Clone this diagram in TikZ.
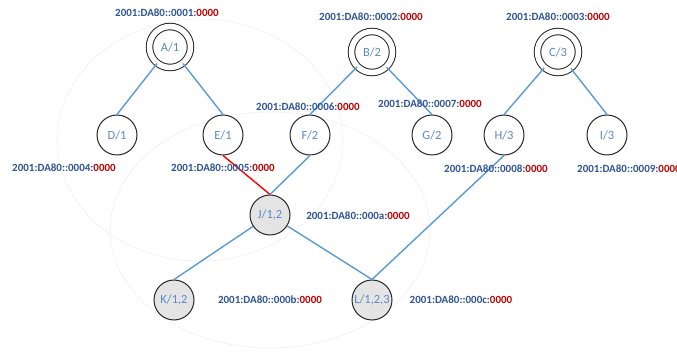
\documentclass[tikz,border=0pt]{standalone}
\usepackage{fontspec}
\setmainfont{Carlito}
\definecolor{lblue}{HTML}{2F5597}
\definecolor{lred}{HTML}{C00000}
\definecolor{ntext}{HTML}{5B8AC6}
\definecolor{edgeblue}{HTML}{5B9BD5}
\definecolor{faint}{HTML}{F0F0F0}
\definecolor{nfill}{HTML}{E4E4E4}
\tikzset{
  vtx/.style={circle,draw=black!85,line width=1pt,minimum size=40pt,inner sep=0pt,fill=white,text=ntext,font=\fontsize{12.5}{12.5}\selectfont},
  root/.style={vtx,double=white,double distance=5.5pt,minimum size=41pt},
  gvtx/.style={vtx,fill=nfill},
  addr/.style={font=\bfseries\fontsize{11}{11}\selectfont,text=lblue,inner sep=0pt},
  edge/.style={draw=edgeblue,line width=1.4pt},
  redge/.style={draw=red,line width=1.4pt},
  ring/.style={draw=faint,line width=0.6pt}
}
\newcommand{\ad}[1]{2001:DA80::#1:\textcolor{lred}{0000}}
\begin{document}
\begin{tikzpicture}[x=1pt,y=-1pt]
\useasboundingbox (0,0) rectangle (677,352);
\fill[white] (0,0) rectangle (677,352);
\draw[ring] (200,140) ellipse [x radius=143, y radius=121];
\draw[ring] (270,230) ellipse [x radius=160, y radius=118];
% nodes
\node[root] (A) at (170,47) {A/1};
\node[root] (B) at (372,52) {B/2};
\node[root] (C) at (558,52) {C/3};
\node[vtx] (D) at (117,135) {D/1};
\node[vtx] (E) at (223,135) {E/1};
\node[vtx] (F) at (310,135) {F/2};
\node[vtx] (G) at (432,135) {G/2};
\node[vtx] (H) at (504,135) {H/3};
\node[vtx] (I) at (607,135) {I/3};
\node[gvtx] (J) at (270,215) {J/1,2};
\node[gvtx] (K) at (174,300) {K/1,2};
\node[gvtx] (L) at (372,300) {L/1,2,3};
% edges
\draw[edge] (A) -- (D.north);
\draw[edge] (A) -- (E.north);
\draw[edge] (B) -- (F.north);
\draw[edge] (B) -- (G.north);
\draw[edge] (C) -- (H.north);
\draw[edge] (C) -- (I.north);
\draw[redge] (E.south) -- (J.north);
\draw[edge] (F.south) -- (J.north);
\draw[edge] (J) -- (K.north);
\draw[edge] (J) -- (L.north);
\draw[edge] (H.south) -- (L.north);
% address labels
\node[addr] (a1) at (167,13) {\ad{0001}};
\node[addr] (a2) at (371,17) {\ad{0002}};
\node[addr] (a3) at (558,17) {\ad{0003}};
\node[addr] (a4) at (64,168) {\ad{0004}};
\node[addr] (a5) at (223,168) {\ad{0005}};
\node[addr] (a6) at (308,107) {\ad{0006}};
\node[addr] (a7) at (430,104) {\ad{0007}};
\node[addr] (a8) at (496,169) {\ad{0008}};
\node[addr,anchor=west] (a9) at (577,169) {\ad{0009}};
\node[addr] (a10) at (358,216) {\ad{000a}};
\node[addr] (a11) at (270,300) {\ad{000b}};
\node[addr] (a12) at (461,300) {\ad{000c}};
\end{tikzpicture}
\end{document}
